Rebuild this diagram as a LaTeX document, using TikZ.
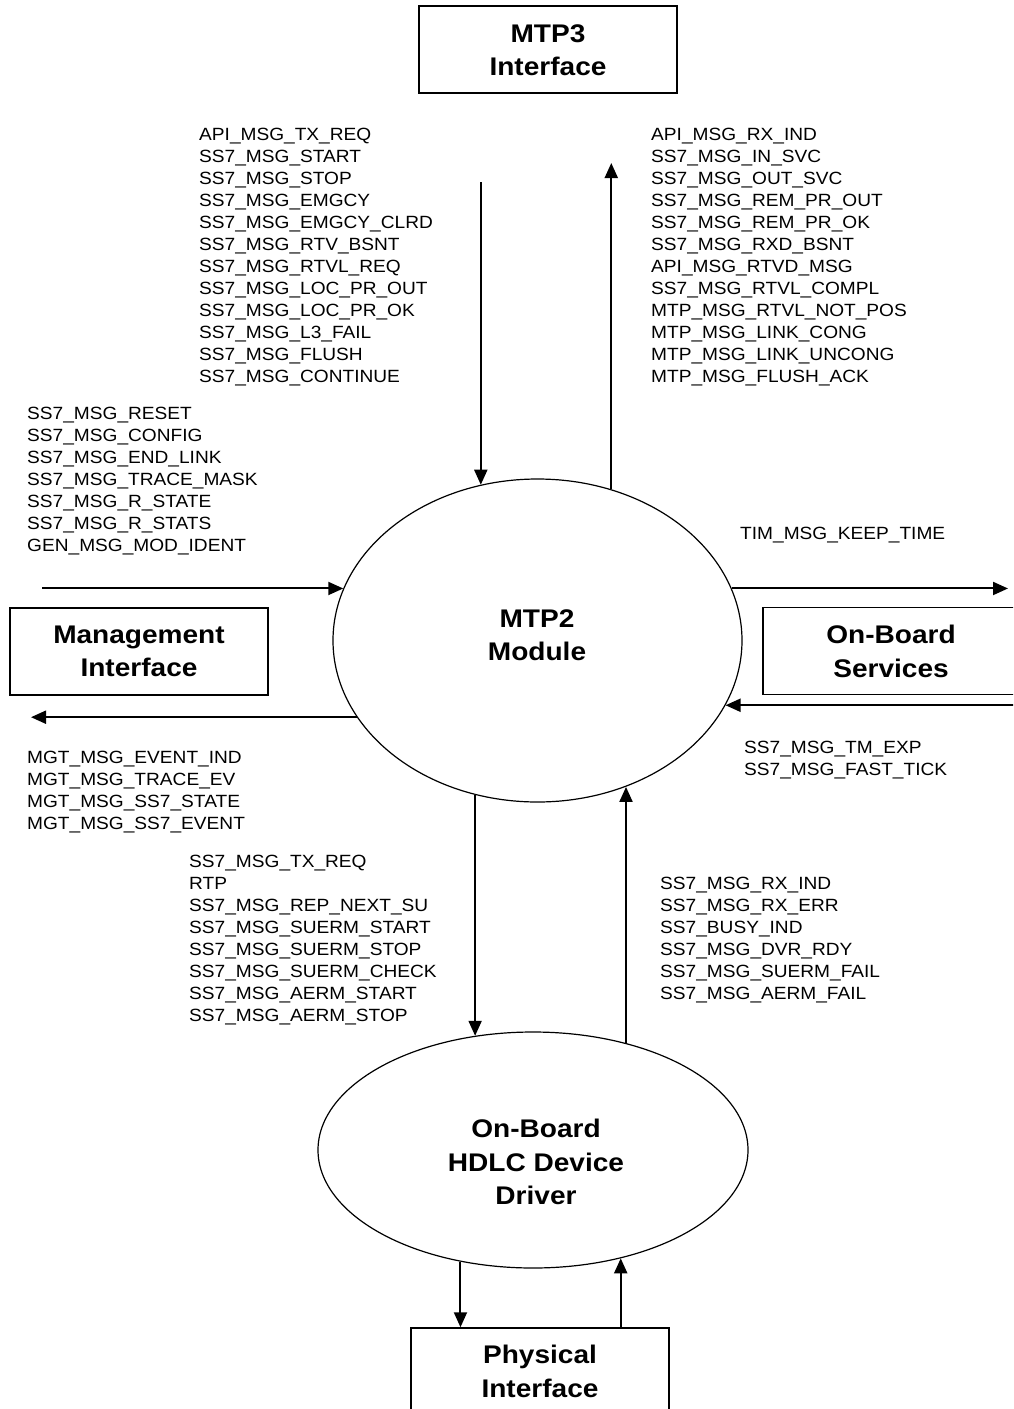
\documentclass[tikz,border=0pt]{standalone}
\usepackage{fontspec}
\setmainfont{Liberation Sans}
\newfontfamily\lblfont[FakeStretch=1.08]{Liberation Sans}
\newfontfamily\ttlfont[FakeStretch=1.1]{Liberation Sans}
\usetikzlibrary{arrows.meta,shapes.geometric}
\begin{document}
\begin{tikzpicture}[x=1pt,y=-1pt,
 lbl/.style={inner sep=0pt, anchor=base west, font=\lblfont\fontsize{17.7}{22}\selectfont},
 ttl/.style={inner sep=0pt, align=center, font=\ttlfont\bfseries\fontsize{25.5}{33.5}\selectfont},
 box/.style={draw, line width=1.5pt, minimum width=258pt, minimum height=87pt, inner sep=0pt},
 oval/.style={draw, ellipse, line width=1.2pt, inner sep=0pt},
 arr/.style={line width=2pt, -{Triangle[length=15pt,width=13pt]}}]
\fill[white] (0,0) rectangle (1013,1409);
\useasboundingbox (0,0) rectangle (1013,1409);
\clip (0,0) rectangle (1013,1409);

% boxes
\node[box] (mtp3) at (548,49.5) {};
\node[box] (mgmt) at (139,651.5) {};
\node[box] (svc) at (892,651) {};
\node[box] (phys) at (540,1371.5) {};
\node[ttl] (mtp3t) at (548,50) {MTP3\\Interface};
\node[ttl] (mgmtt) at (139,651.5) {Management\\Interface};
\node[ttl] (svct) at (891,651.5) {On-Board\\Services};
\node[ttl] (physt) at (540,1371.5) {Physical\\Interface};

% ellipses
\node[oval, minimum width=409pt, minimum height=323pt] (mtp2) at (537.5,640.5) {};
\node[ttl] (mtp2t) at (537,635) {MTP2\\Module};
\node[oval, minimum width=430pt, minimum height=236pt] (hdlc) at (533,1150) {};
\node[ttl] (hdlct) at (536,1162) {On-Board\\HDLC Device\\Driver};

% labels
\foreach \t [count=\i from 0] in {API\_MSG\_TX\_REQ, SS7\_MSG\_START, SS7\_MSG\_STOP, SS7\_MSG\_EMGCY, SS7\_MSG\_EMGCY\_CLRD, SS7\_MSG\_RTV\_BSNT, SS7\_MSG\_RTVL\_REQ, SS7\_MSG\_LOC\_PR\_OUT, SS7\_MSG\_LOC\_PR\_OK, SS7\_MSG\_L3\_FAIL, SS7\_MSG\_FLUSH, SS7\_MSG\_CONTINUE}
  \node[lbl] (tl\i) at (199,{140+22*\i}) {\t};
\foreach \t [count=\i from 0] in {API\_MSG\_RX\_IND, SS7\_MSG\_IN\_SVC, SS7\_MSG\_OUT\_SVC, SS7\_MSG\_REM\_PR\_OUT, SS7\_MSG\_REM\_PR\_OK, SS7\_MSG\_RXD\_BSNT, API\_MSG\_RTVD\_MSG, SS7\_MSG\_RTVL\_COMPL, MTP\_MSG\_RTVL\_NOT\_POS, MTP\_MSG\_LINK\_CONG, MTP\_MSG\_LINK\_UNCONG, MTP\_MSG\_FLUSH\_ACK}
  \node[lbl] (tr\i) at (651,{140+22*\i}) {\t};
\foreach \t [count=\i from 0] in {SS7\_MSG\_RESET, SS7\_MSG\_CONFIG, SS7\_MSG\_END\_LINK, SS7\_MSG\_TRACE\_MASK, SS7\_MSG\_R\_STATE, SS7\_MSG\_R\_STATS, GEN\_MSG\_MOD\_IDENT}
  \node[lbl] (mi\i) at (27,{419.5+22*\i}) {\t};
\foreach \t [count=\i from 0] in {MGT\_MSG\_EVENT\_IND, MGT\_MSG\_TRACE\_EV, MGT\_MSG\_SS7\_STATE, MGT\_MSG\_SS7\_EVENT}
  \node[lbl] (mo\i) at (27,{763.5+22*\i}) {\t};
\node[lbl] (tim) at (740,539.5) {TIM\_MSG\_KEEP\_TIME};
\foreach \t [count=\i from 0] in {SS7\_MSG\_TM\_EXP, SS7\_MSG\_FAST\_TICK}
  \node[lbl] (si\i) at (744,{753.5+22*\i}) {\t};
\foreach \t [count=\i from 0] in {SS7\_MSG\_TX\_REQ, RTP, SS7\_MSG\_REP\_NEXT\_SU, SS7\_MSG\_SUERM\_START, SS7\_MSG\_SUERM\_STOP, SS7\_MSG\_SUERM\_CHECK, SS7\_MSG\_AERM\_START, SS7\_MSG\_AERM\_STOP}
  \node[lbl] (bl\i) at (189,{867.5+22*\i}) {\t};
\foreach \t [count=\i from 0] in {SS7\_MSG\_RX\_IND, SS7\_MSG\_RX\_ERR, SS7\_BUSY\_IND, SS7\_MSG\_DVR\_RDY, SS7\_MSG\_SUERM\_FAIL, SS7\_MSG\_AERM\_FAIL}
  \node[lbl] (br\i) at (660,{889.5+22*\i}) {\t};

% free ends
\coordinate (ytop) at (0,182);
\coordinate (ytip) at (0,163);
\coordinate (xml) at (42,0);
\coordinate (xmo) at (31,0);
\coordinate (xso) at (1008,0);
\coordinate (xsi) at (1016,0);

% connectors
\draw[arr] (mtp2.110 |- ytop) -- (mtp2.110);
\draw[arr] (mtp2.64) -- (mtp2.64 |- ytip);
\draw[arr] (xml |- mtp2.165) -- (mtp2.165);
\draw[arr] (mtp2.203) -- (xmo |- mtp2.203);
\draw[arr] (mtp2.15) -- (xso |- mtp2.15);
\draw[arr] (xsi |- mtp2.-19) -- (mtp2.-19);
\draw[arr] (mtp2.248) -- (mtp2.248 |- hdlc.117);
\draw[arr] (hdlc.49) -- (hdlc.49 |- mtp2.-59);
\draw[arr] (hdlc.237) -- (hdlc.237 |- phys.north);
\draw[arr] (hdlc.-51 |- phys.north) -- (hdlc.-51);
\end{tikzpicture}
\end{document}
